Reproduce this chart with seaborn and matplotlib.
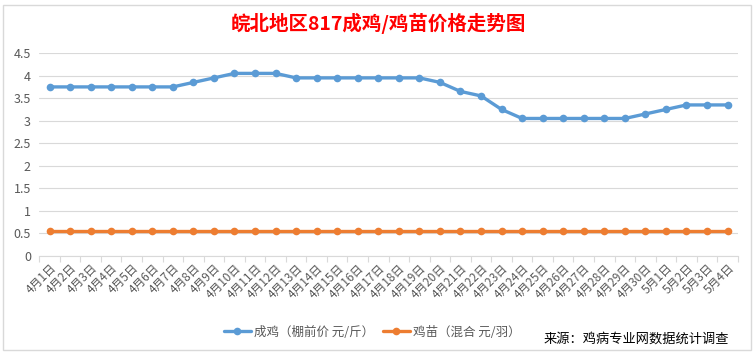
import pandas as pd
import matplotlib.pyplot as plt
import seaborn as sns

dates = [f"4月{d}日" for d in range(1, 31)] + [f"5月{d}日" for d in range(1, 5)]
chicken = [3.75, 3.75, 3.75, 3.75, 3.75, 3.75, 3.75, 3.85, 3.95, 4.05,
           4.05, 4.05, 3.95, 3.95, 3.95, 3.95, 3.95, 3.95, 3.95, 3.85,
           3.65, 3.55, 3.25, 3.05, 3.05, 3.05, 3.05, 3.05, 3.05, 3.15,
           3.25, 3.35, 3.35, 3.35]
chick = [0.55] * 34
yticks = [0, 0.5, 1, 1.5, 2, 2.5, 3, 3.5, 4, 4.5]

sns.set_style("white")
plt.rcParams['font.family'] = ['Noto Sans CJK SC', 'DejaVu Sans']

df = pd.DataFrame({'idx': range(len(dates)), 'chicken': chicken, 'chick': chick})

fig = plt.figure(figsize=(7.56, 3.54), dpi=100)
ax = fig.add_axes([0.052, 0.277, 0.924, 0.573])

sns.lineplot(data=df, x='idx', y='chicken', ax=ax, color='#5B9BD5', lw=2.4,
             marker='o', markersize=5.5, markeredgewidth=0, label='成鸡（棚前价 元/斤）')
sns.lineplot(data=df, x='idx', y='chick', ax=ax, color='#ED7D31', lw=2.4,
             marker='o', markersize=5.5, markeredgewidth=0, label='鸡苗（混合 元/羽）')

ax.set_xlim(-0.5, len(dates) - 0.5)
ax.set_ylim(0, 4.5)
ax.set_yticks(yticks)
ax.set_yticklabels([f"{v:g}" for v in yticks], fontsize=9, color='#595959')
ax.set_xticks(range(len(dates)))
ax.set_xticklabels(dates, rotation=45, ha='right', rotation_mode='anchor', fontsize=8.5, color='#595959')
ax.set_xticks([i - 0.5 for i in range(len(dates) + 1)], minor=True)
ax.tick_params(axis='x', which='major', length=0, pad=4)
ax.tick_params(axis='x', which='minor', length=4, color='#D9D9D9', width=0.8, bottom=True)
ax.tick_params(axis='y', length=0, pad=6)
ax.yaxis.grid(True, color='#D9D9D9', lw=0.8)
ax.set_axisbelow(True)
ax.set_xlabel('')
ax.set_ylabel('')
for s in ['left', 'right', 'top']:
    ax.spines[s].set_visible(False)
ax.spines['bottom'].set_color('#D9D9D9')

ax.legend(loc='center', bbox_to_anchor=(0.492, 0.062), bbox_transform=fig.transFigure,
          ncol=2, frameon=False, fontsize=9, handlelength=2.2, handletextpad=0.2,
          columnspacing=0.7, labelcolor='#595959')

fig.text(0.5, 0.935, '皖北地区817成鸡/鸡苗价格走势图', ha='center', va='center',
         color='#FF0000', fontsize=14, fontweight='bold')
fig.text(0.965, 0.043, '来源：鸡病专业网数据统计调查', ha='right', va='center',
         color='#000000', fontsize=9.5)

border = plt.Rectangle((0.004, 0.012), 0.99, 0.975, transform=fig.transFigure,
                       fill=False, edgecolor='#D9D9D9', lw=1)
fig.patches.append(border)

fig.savefig('out.png', dpi=100)
